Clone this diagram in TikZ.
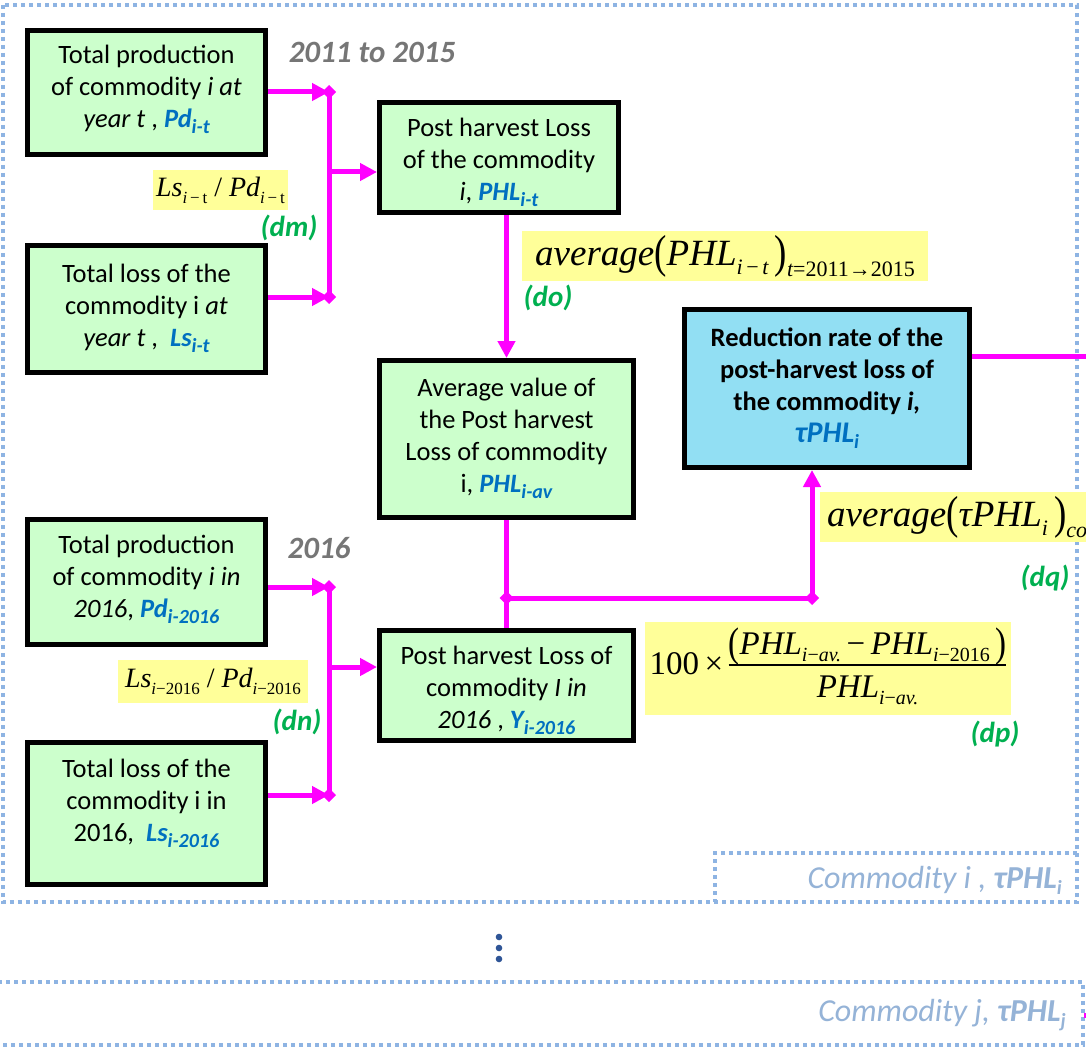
\documentclass[tikz,border=0pt]{standalone}
\usepackage{fontspec}
\setmainfont{Carlito}
\newfontfamily\tms{Liberation Serif}
\usepackage{graphicx}
\usetikzlibrary{arrows.meta}
\definecolor{boxgreen}{HTML}{CCFFCC}
\definecolor{boxblue}{HTML}{92DFF3}
\definecolor{yellowbg}{HTML}{FFFF99}
\definecolor{mag}{HTML}{FF00FF}
\definecolor{vblue}{HTML}{0070C0}
\definecolor{tagg}{HTML}{00B050}
\definecolor{grayt}{HTML}{767676}
\definecolor{frameb}{HTML}{8EB4E3}
\definecolor{framet}{HTML}{95B3D7}
\definecolor{dotb}{HTML}{2F5597}
\newcommand\bsub[1]{\raisebox{-6pt}{\fontsize{20}{20}\selectfont #1}}
\newcommand\hl[2]{{\color{vblue}\bfseries\itshape #1\bsub{#2}}}
\newcommand\lo[2][9]{\raisebox{-#1pt}{\fontsize{22}{22}\selectfont #2}}
\newcommand\lof[2][7]{\raisebox{-#1pt}{\fontsize{20}{20}\selectfont #2}}
\newcommand\los[2][7]{\raisebox{-#1pt}{\fontsize{17}{17}\selectfont #2}}
\newcommand\bigp[1]{\raisebox{-2pt}{\scalebox{1}[1.25]{\upshape #1}}}
\begin{document}
\begin{tikzpicture}[x=1pt,y=-1pt,
  box/.style={draw=black,line width=5pt,fill=boxgreen,inner sep=0pt},
  bt/.style={align=center,inner sep=0pt,font=\fontsize{26.5}{32}\selectfont},
  conn/.style={draw=mag,line width=5pt},
  arr/.style={conn,-{Triangle[length=17pt,width=17pt]}},
  yel/.style={fill=yellowbg,inner sep=0pt},
  tag/.style={text=tagg,font=\fontsize{29}{30}\selectfont\bfseries\itshape,inner sep=0pt},
  yr/.style={text=grayt,font=\fontsize{31}{32}\selectfont\bfseries\itshape,inner sep=0pt},
  frame/.style={draw=frameb,line width=4.3pt,dash pattern=on 4.3pt off 3.7pt},
  comm/.style={text=framet,font=\fontsize{32}{33}\selectfont\itshape,inner sep=0pt,anchor=east},
  dia/.style={fill=mag}]
\useasboundingbox (0,0) rectangle (1086,1051);
\clip (0,0) rectangle (1086,1051);
\fill[white] (0,0) rectangle (1086,1051);

% frames
\draw[frame] (3,5) rectangle (1077,902);
\draw[frame] (1077,853) -- (715,853) -- (715,902);
\draw[frame] (-10,982) -- (1083,982) -- (1083,1045) -- (-10,1045);

% boxes
\node[box,minimum width=238,minimum height=124,
  label={[bt,yshift=3pt]center:{Total production\\of commodity \textit{i at}\\\textit{year t} , \hl{Pd}{i-t}}}] (A) at (146.5,92.5) {};
\node[box,minimum width=238,minimum height=127,
  label={[bt,yshift=1pt]center:{Total loss of the\\commodity i \textit{at}\\\textit{year t} ,\ \ \hl{Ls}{i-t}}}] (B) at (146.5,309) {};
\node[box,minimum width=239,minimum height=110,
  label={[bt,yshift=-5pt]center:{Post harvest Loss\\of the commodity\\\textit{i}, \hl{PHL}{i-t}}}] (C) at (499,157.5) {};
\node[box,minimum width=254,minimum height=157,
  label={[bt,yshift=1pt]center:{Average value of\\the Post harvest\\Loss of commodity\\i, \hl{PHL}{i-av}}}] (D) at (506.5,439) {};
\node[box,fill=boxblue,minimum width=285,minimum height=158,
  label={[bt,font=\fontsize{26.5}{32}\selectfont\bfseries]center:{Reduction rate of the\\post-harvest loss of\\the commodity \textit{i,}\\{\color{vblue}\fontsize{30}{32}\selectfont\itshape τPHL\bsub{i}}}}] (E) at (827,388.5) {};
\node[box,minimum width=238,minimum height=125,
  label={[bt,yshift=3pt]center:{Total production\\of commodity \textit{i in}\\\textit{2016}, \hl{Pd}{i-2016}}}] (F) at (146.5,582) {};
\node[box,minimum width=238,minimum height=142,
  label={[bt,yshift=10pt]center:{Total loss of the\\commodity i in\\2016,\ \ \hl{Ls}{i-2016}}}] (G) at (146.5,813.5) {};
\node[box,minimum width=254,minimum height=110,
  label={[bt,yshift=-5pt]center:{Post harvest Loss of\\commodity \textit{I in}\\\textit{2016} , \hl{Y}{i-2016}}}] (H) at (506.5,685.5) {};

% formulas
\node[yel,minimum width=135,minimum height=40] (f1) at (220.5,190)
  {\tms\fontsize{28}{30}\selectfont\itshape Ls\los{i\,\upshape−\,t}\upshape\ /\ \itshape Pd\los{i\,\upshape−\,t}};
\node[yel,minimum width=406,minimum height=50] (f2) at (725,256)
  {\tms\fontsize{37}{40}\selectfont\itshape average\bigp{(}PHL\lo{i\,\upshape−\,\itshape t}\,\bigp{)}\lo[11]{t\upshape=2011→2015}};
\node[yel,minimum height=50,anchor=west,inner xsep=7pt] (f3) at (820,517)
  {\tms\fontsize{37}{40}\selectfont\itshape average\bigp{(}τPHL\lo{i}\,\bigp{)}\lo[11]{co}\hspace{60pt}};
\node[yel,minimum width=366,minimum height=93] (f4) at (828,668.5)
  {\tms\fontsize{33}{38}\selectfont\setlength{\arrayrulewidth}{1.5pt}100\,×\,\begin{tabular}{@{}c@{}}\bigp{(}\itshape PHL\lof[7]{i\upshape−\itshape av.}\,\upshape−\,\itshape PHL\lof[7]{i\upshape−2016}\,\bigp{)}\\[-2pt]\hline\rule{0pt}{32pt}\itshape PHL\lof[7]{i\upshape−\itshape av.}\end{tabular}};
\node[yel,minimum width=190,minimum height=43] (f5) at (213,681.5)
  {\tms\fontsize{28}{30}\selectfont\itshape Ls\los{i\upshape−2016}\upshape\ /\ \itshape Pd\los{i\upshape−2016}};

% tags
\node[tag] (dm) at (289,228) {(dm)};
\node[tag] (do) at (548,298) {(do)};
\node[tag] (dq) at (1045,578) {(dq)};
\node[tag] (dp) at (995,734) {(dp)};
\node[tag] (dn) at (297,722) {(dn)};
\node[yr] (y1) at (372,52) {2011 to 2015};
\node[yr] (y2) at (319,548) {2016};
\node[comm] (ci) at (1062,880) {Commodity i , {\bfseries τPHL\bsub{i}}};
\node[comm] (cj) at (1066,1015) {Commodity j, {\bfseries τPHL\bsub{j}}};

% ellipsis
\foreach \yy in {937,948,959} \fill[dotb] (499,\yy) circle (3.3pt);

% connectors top group
\coordinate (j1) at (329,92);
\coordinate (j2) at (329,297);
\coordinate (j3) at (329,172);
\draw[arr] (A.east |- j1) -- (j1);
\draw[arr] (B.east |- j2) -- (j2);
\draw[conn] (j1) -- (j2);
\draw[arr] (j3) -- (C.west |- j3);
% bottom group
\coordinate (j4) at (329,587);
\coordinate (j5) at (329,795);
\coordinate (j6) at (329,667);
\draw[arr] (F.east |- j4) -- (j4);
\draw[arr] (G.east |- j5) -- (j5);
\draw[conn] (j4) -- (j5);
\draw[arr] (j6) -- (H.west |- j6);
% middle
\draw[arr] (D.north |- C.south) -- (D.north);
\draw[conn] (D.south) -- (H.north);
\coordinate (jd) at (506.5,598);
\coordinate (je) at (812,598);
\draw[conn] (jd) -- (je);
\draw[arr] (je) -- (je |- E.south);
\coordinate (er) at (1095,356);
\draw[conn] (E.east |- er) -- (er);
\coordinate (jj1) at (1084,1015);
\coordinate (jj2) at (1095,1015);
\draw[conn] (jj1) -- (jj2);
\foreach \c in {j1,j2,j4,j5,jd,je}
  \fill[dia] (\c) +(-7,0) -- +(0,-7) -- +(7,0) -- +(0,7) -- cycle;
\end{tikzpicture}
\end{document}
